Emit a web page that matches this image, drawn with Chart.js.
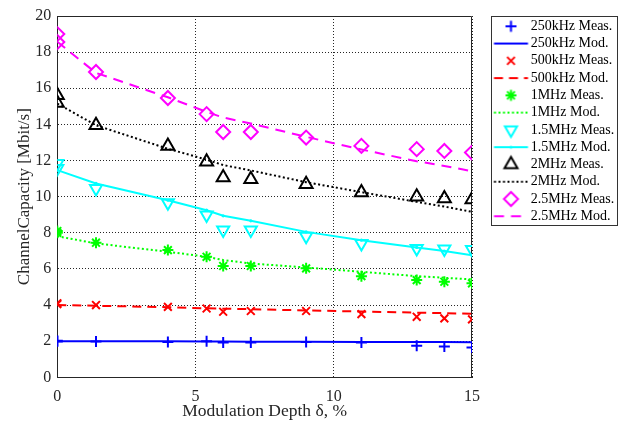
<!DOCTYPE html>
<html><head><meta charset="utf-8">
<script src="https://cdn.jsdelivr.net/npm/chart.js@4/dist/chart.umd.min.js"></script>
<style>html,body{margin:0;padding:0;background:#fff}#wrap{width:624px;height:421px}</style>
</head><body><div id="wrap"><canvas id="c" width="624" height="421"></canvas></div>
<script>
// ---- data ----
const measX = [0, 0, 1.4, 4, 5.4, 6, 7, 9, 11, 13, 14, 15];
const modX  = [0, 1.4, 4, 5.4, 6, 7, 9, 11, 13, 14, 15];

const meas250k = [2.02, 1.98, 1.98, 1.95, 2.0, 1.93, 1.93, 1.95, 1.93, 1.75, 1.7, 1.65];
const mod250k  = [2.0, 2.0, 1.99, 1.98, 1.98, 1.97, 1.97, 1.96, 1.95, 1.95, 1.94];
const meas500k = [4.1, 4.05, 4.0, 3.9, 3.81, 3.63, 3.67, 3.67, 3.5, 3.35, 3.26, 3.21];
const mod500k  = [4.0, 3.96, 3.88, 3.82, 3.8, 3.77, 3.7, 3.64, 3.58, 3.55, 3.52];
const meas1M   = [8.1, 8.0, 7.45, 7.04, 6.67, 6.16, 6.16, 6.03, 5.6, 5.38, 5.29, 5.2];
const mod1M    = [7.81, 7.41, 6.95, 6.67, 6.49, 6.3, 6.08, 5.84, 5.6, 5.51, 5.42];
const meas15M  = [11.84, 11.56, 10.45, 9.66, 8.98, 8.15, 8.15, 7.81, 7.41, 7.13, 7.1, 7.08];
const mod15M   = [11.47, 10.73, 9.8, 9.25, 8.94, 8.66, 8.05, 7.59, 7.19, 6.99, 6.76];
const meas2M   = [15.61, 15.19, 13.95, 12.81, 11.93, 11.06, 10.97, 10.69, 10.23, 9.99, 9.9, 9.84];
const mod2M    = [15.15, 13.95, 12.65, 12.05, 11.75, 11.45, 10.8, 10.25, 9.71, 9.45, 9.16];
const meas25M  = [19.0, 18.56, 16.9, 15.46, 14.57, 13.58, 13.58, 13.27, 12.81, 12.63, 12.53, 12.44];
const mod25M   = [18.57, 16.85, 15.5, 14.69, 14.38, 14.05, 13.31, 12.61, 11.96, 11.7, 11.41];

const seriesLabels = ['250kHz Meas.', '250kHz Mod.', '500kHz Meas.', '500kHz Mod.',
  '1MHz Meas.', '1MHz Mod.', '1.5MHz Meas.', '1.5MHz Mod.',
  '2MHz Meas.', '2MHz Mod.', '2.5MHz Meas.', '2.5MHz Mod.'];
const xTicks = [0, 5, 10, 15];
const yTicks = [0, 2, 4, 6, 8, 10, 12, 14, 16, 18, 20];
const xTitle = 'Modulation Depth \u03B4, %';
const yTitle = 'ChannelCapacity [Mbit/s]';

// ---- styles ----
const FONT = 'Liberation Serif, Times New Roman, serif';
const pts = (xs, ys) => xs.map((x, i) => ({x: x, y: ys[i]}));

function measDs(label, ys, color, style, r, rot) {
  return {label, data: pts(measX, ys), showLine: false, pointStyle: style,
    pointRadius: r, pointHoverRadius: r, pointRotation: rot || 0,
    borderColor: color, backgroundColor: 'transparent', pointBorderWidth: 2, borderWidth: 2};
}
function modDs(label, ys, color, dash, pr) {
  return {label, data: pts(modX, ys), showLine: true, borderColor: color,
    backgroundColor: color, borderWidth: 2, borderDash: dash, pointRadius: pr || 0,
    pointStyle: 'circle', pointBorderWidth: 0, pointBackgroundColor: color, tension: 0};
}

const datasets = [
  measDs(seriesLabels[0], meas250k, '#0000ff', 'cross', 5.5),
  modDs(seriesLabels[1], mod250k, '#0000ff', []),
  measDs(seriesLabels[2], meas500k, '#ff0000', 'crossRot', 5.5),
  modDs(seriesLabels[3], mod500k, '#ff0000', [9, 6]),
  measDs(seriesLabels[4], meas1M, '#00ff00', 'star', 5.5),
  modDs(seriesLabels[5], mod1M, '#00ff00', [2, 2.5]),
  measDs(seriesLabels[6], meas15M, '#00ffff', 'triangle', 7, 180),
  modDs(seriesLabels[7], mod15M, '#00ffff', [], 1.6),
  measDs(seriesLabels[8], meas2M, '#000000', 'triangle', 7.5),
  modDs(seriesLabels[9], mod2M, '#000000', [2, 2.5]),
  measDs(seriesLabels[10], meas25M, '#ff00ff', 'rectRot', 7),
  modDs(seriesLabels[11], mod25M, '#ff00ff', [10, 7])
];

// ---- legend icons ----
function icon(ds) {
  const c = document.createElement('canvas');
  c.width = 80; c.height = 22;
  const g = c.getContext('2d');
  const cx = 51.5, cy = 11;
  g.strokeStyle = ds.borderColor; g.lineWidth = 2;
  if (ds.showLine) {
    g.fillStyle = ds.borderColor;
    g.setLineDash(ds.borderDash || []);
    g.beginPath(); g.moveTo(cx - 17, cy); g.lineTo(cx + 17, cy); g.stroke();
    if (ds.pointRadius) { g.setLineDash([]); g.beginPath(); g.arc(cx, cy, ds.pointRadius, 0, Math.PI * 2); g.fill(); }
  } else {
    g.fillStyle = 'rgba(0,0,0,0)';
    const o = {pointStyle: ds.pointStyle, radius: ds.pointRadius, rotation: ds.pointRotation, borderWidth: 2};
    if (Chart.helpers && Chart.helpers.drawPoint) {
      Chart.helpers.drawPoint(g, o, cx, cy);
    }
  }
  return c;
}

const boxPlugin = {
  id: 'boxes',
  afterLayout(chart) {
    const sx = chart.scales.x;
    if (!sx._titleShifted) {
      const orig = sx.drawTitle;
      sx.drawTitle = function () { orig.apply(this, arguments); };
      sx._titleShifted = true;
    }
  },
  beforeDatasetsDraw(chart) {
    const {ctx, chartArea: a} = chart;
    ctx.save();
    ctx.strokeStyle = '#262626'; ctx.lineWidth = 1; ctx.setLineDash([]);
    const t = Math.round(a.top) + 0.5, r = Math.round(a.right) - 0.5;
    ctx.beginPath();
    ctx.moveTo(a.left, t); ctx.lineTo(r, t); ctx.lineTo(r, a.bottom);
    ctx.stroke();
    ctx.restore();
  },
  afterDraw(chart) {
    const lg = chart.legend; const ctx = chart.ctx;
    ctx.save();
    ctx.strokeStyle = '#333'; ctx.lineWidth = 1; ctx.setLineDash([]);
    ctx.strokeRect(Math.round(lg.left + 19) + 0.5, Math.round(lg.top) + 0.5, 126, 209);
    ctx.restore();
  }
};

const icons = datasets.map(icon);

new Chart(document.getElementById('c'), {
  type: 'scatter',
  data: {datasets},
  plugins: [boxPlugin],
  options: {
    responsive: false, animation: false, devicePixelRatio: 1,
    layout: {padding: {top: 16, right: 0, bottom: 0, left: 0}},
    plugins: {
      tooltip: {enabled: false},
      legend: {
        position: 'right', align: 'start', maxWidth: 152,
        labels: {
          usePointStyle: true, pointStyleWidth: 48.4, boxHeight: 14, padding: 3.27,
          font: {family: FONT, size: 14}, color: '#000',
          generateLabels: (chart) => chart.data.datasets.map((ds, i) => ({
            text: ds.label, pointStyle: icons[i], datasetIndex: i, hidden: false,
            fillStyle: 'transparent', strokeStyle: 'transparent', lineWidth: 0, fontColor: '#000'
          }))
        }
      }
    },
    scales: {
      x: {
        type: 'linear', min: 0, max: 15,
        afterBuildTicks: (s) => { s.ticks = xTicks.map(v => ({value: v})); },
        afterFit: (s) => { s.height = 43.7; },
        ticks: {padding: 10, font: {family: FONT, size: 16}, color: '#262626'},
        grid: {drawTicks: false, color: '#262626', lineWidth: 1, tickLength: 0},
        border: {display: true, color: '#262626', width: 1, dash: [1, 2]},
        title: {display: true, text: xTitle, font: {family: FONT, size: 17.5, lineHeight: 1.05}, color: '#262626', padding: {top: 0, bottom: 0}}
      },
      y: {
        type: 'linear', min: 0, max: 20,
        afterBuildTicks: (s) => { s.ticks = yTicks.map(v => ({value: v})); },
        afterFit: (s) => { s.width = 57.3; },
        ticks: {padding: 6, font: {family: FONT, size: 16}, color: '#262626'},
        grid: {drawTicks: false, color: '#262626', lineWidth: 1, tickLength: 0},
        border: {display: true, color: '#262626', width: 1, dash: [1, 2]},
        title: {display: true, text: yTitle, font: {family: FONT, size: 17}, color: '#262626', padding: {top: 14, bottom: 0}}
      }
    }
  }
});
</script>
</body></html>
